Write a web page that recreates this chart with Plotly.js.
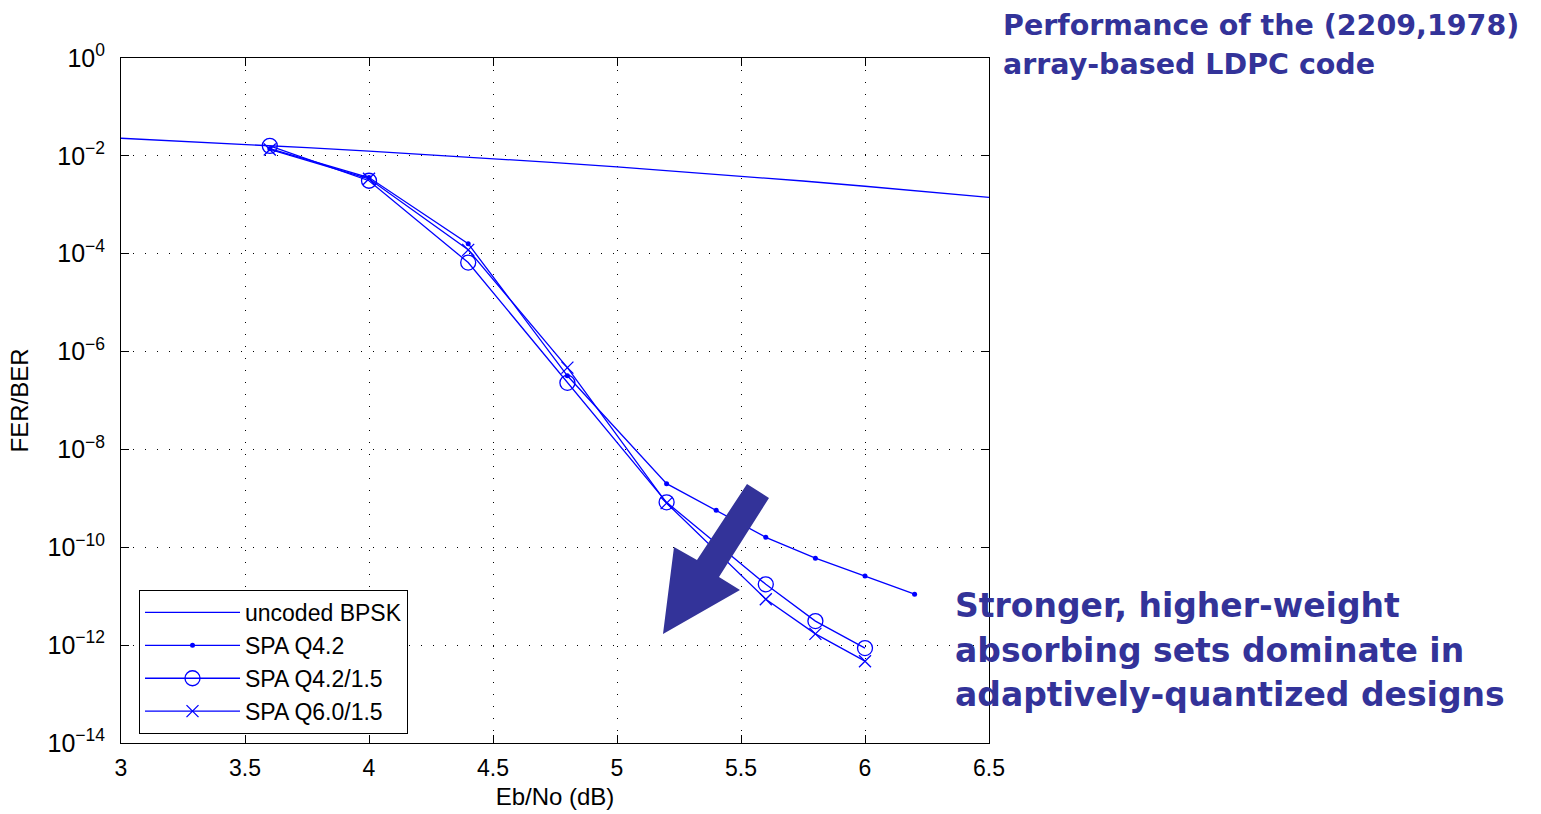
<!DOCTYPE html>
<html>
<head>
<meta charset="utf-8">
<script src="https://cdn.plot.ly/plotly-3.0.1.min.js"></script>
<style>html,body{margin:0;padding:0;background:#fff}#chart{width:1541px;height:814px}</style>
</head>
<body>
<div id="chart"></div>
<script>
// ---- data ----
const ebnoUncoded = [3.0, 3.25, 3.5, 3.75, 4.0, 4.25, 4.5, 4.75, 5.0, 5.25, 5.5, 5.75, 6.0, 6.25, 6.5];
const berUncoded  = [0.0229, 0.0199, 0.0172, 0.0147, 0.0125, 0.0105, 0.0088, 0.00727, 0.00595, 0.00482, 0.00386, 0.00306, 0.00239, 0.00184, 0.00142];

const ebnoQ42 = [3.6, 4.0, 4.4, 4.8, 5.2, 5.4, 5.6, 5.8, 6.0, 6.2];
const berQ42  = [0.014, 0.0036, 1.6e-4, 3.2e-7, 2.0e-9, 5.7e-10, 1.6e-10, 6.0e-11, 2.6e-11, 1.1e-11];

const ebnoQ42a = [3.6, 4.0, 4.4, 4.8, 5.2, 5.6, 5.8, 6.0];
const berQ42a  = [0.016, 0.0031, 6.6e-5, 2.3e-7, 8.3e-10, 1.75e-11, 3.1e-12, 8.7e-13];

const ebnoQ60a = [3.6, 4.0, 4.4, 4.8, 5.2, 5.6, 5.8, 6.0];
const berQ60a  = [0.0135, 0.0034, 1.2e-4, 4.7e-7, 8.0e-10, 8.7e-12, 1.7e-12, 4.7e-13];

const seriesNames = ['uncoded BPSK', 'SPA Q4.2', 'SPA Q4.2/1.5', 'SPA Q6.0/1.5'];

const xTickVals = [3, 3.5, 4, 4.5, 5, 5.5, 6, 6.5];
const xTickText = ['3', '3.5', '4', '4.5', '5', '5.5', '6', '6.5'];
const yTickExp  = [0, -2, -4, -6, -8, -10, -12, -14];

const titleLines = ['Performance of the (2209,1978)', 'array-based LDPC code'];
const noteLines  = ['Stronger, higher-weight', 'absorbing sets dominate in', 'adaptively-quantized designs'];

// ---- layout geometry ----
const W = 1541, H = 814;
const L = 121, R = 989, T = 58, B = 743;
const PW = R - L, PH = B - T;
const px = x => (x - L) / PW;
const py = y => (B - y) / PH;

const blue = '#0000ff';
const navy = '#333399';
const lw = 1.3;

const traces = [
  {x: ebnoUncoded, y: berUncoded, name: seriesNames[0], mode: 'lines',
   line: {color: blue, width: lw}, legendgroup: 'a'},
  {x: ebnoQ42, y: berQ42, name: seriesNames[1], mode: 'lines+markers',
   line: {color: blue, width: lw}, marker: {symbol: 'circle', size: 5, color: blue}, legendgroup: 'b'},
  {x: ebnoQ42a, y: berQ42a, name: seriesNames[2], mode: 'lines+markers',
   line: {color: blue, width: lw},
   marker: {symbol: 'circle-open', size: 15, color: blue, line: {width: 1.3, color: blue}}, legendgroup: 'c'},
  {x: ebnoQ60a, y: berQ60a, name: seriesNames[3], mode: 'lines+markers',
   line: {color: blue, width: lw},
   marker: {symbol: 'x-thin-open', size: 12, color: blue, line: {width: 1.3, color: blue}}, legendgroup: 'd'}
];

const tickFont = {family: 'Liberation Sans, Arial, sans-serif', size: 23, color: '#000'};
const yTickFont = {family: 'Liberation Sans, Arial, sans-serif', size: 25, color: '#000'};
const labelFont = {family: 'Liberation Sans, Arial, sans-serif', size: 24, color: '#000'};
const legendFont = {family: 'Liberation Sans, Arial, sans-serif', size: 23, color: '#000'};

// arrow outline in pixel coordinates
const arrowPx = [[747,484],[769,498],[719,577],[740,590],[663,634],[674,547],[697,560]];
const arrowPath = 'M ' + arrowPx.map(p => px(p[0]).toFixed(5) + ',' + py(p[1]).toFixed(5)).join(' L ') + ' Z';

const annotations = [];
const titleY = [25, 64];
titleLines.forEach((t, i) => annotations.push({
  xref: 'paper', yref: 'paper', x: px(1001), y: py(titleY[i]), xanchor: 'left', yanchor: 'middle',
  text: '<b>' + t + '</b>', showarrow: false,
  font: {family: 'DejaVu Sans, Verdana, sans-serif', size: 28.5, color: navy}
}));
const noteY = [605, 650, 694];
noteLines.forEach((t, i) => annotations.push({
  xref: 'paper', yref: 'paper', x: px(953), y: py(noteY[i]), xanchor: 'left', yanchor: 'middle',
  text: '<b>' + t + '</b>', showarrow: false,
  font: {family: 'DejaVu Sans, Verdana, sans-serif', size: 33, color: navy}
}));

const layout = {
  width: W, height: H,
  margin: {l: L, r: W - R, t: T, b: H - B, pad: 0},
  paper_bgcolor: '#fff', plot_bgcolor: '#fff',
  showlegend: true,
  legend: {
    x: px(139), y: py(590), xanchor: 'left', yanchor: 'top',
    bordercolor: '#000', borderwidth: 1, bgcolor: '#fff',
    font: legendFont,
    itemwidth: 95, traceorder: 'grouped', tracegroupgap: 0
  },
  xaxis: {
    range: [3, 6.5], tickvals: xTickVals, ticktext: xTickText,
    showgrid: true, gridcolor: '#000', griddash: '1px,11px', gridwidth: 1,
    showline: true, linecolor: '#000', linewidth: 1, mirror: 'ticks',
    ticks: 'inside', ticklen: 8, tickcolor: '#000', ticklabelstandoff: 4,
    zeroline: false, tickfont: tickFont,
    title: {text: 'Eb/No (dB)', font: labelFont, standoff: 8}
  },
  yaxis: {
    type: 'log', range: [-14, 0],
    tickvals: yTickExp.map(e => Math.pow(10, e)),
    ticktext: yTickExp.map(e => '10<sup>' + (e < 0 ? '\u2212' + (-e) : e) + '</sup>'),
    showgrid: true, gridcolor: '#000', griddash: '1px,11px', gridwidth: 1,
    showline: true, linecolor: '#000', linewidth: 1, mirror: 'ticks',
    ticks: 'inside', ticklen: 8, tickcolor: '#000', ticklabelstandoff: 10,
    zeroline: false, tickfont: yTickFont,
    title: {text: 'FER/BER', font: labelFont, standoff: 12}
  },
  shapes: [{
    type: 'path', xref: 'paper', yref: 'paper', path: arrowPath,
    fillcolor: navy, line: {width: 0}, layer: 'above'
  }],
  annotations: annotations
};

Plotly.newPlot('chart', traces, layout, {displayModeBar: false, staticPlot: true});
</script>
</body>
</html>
